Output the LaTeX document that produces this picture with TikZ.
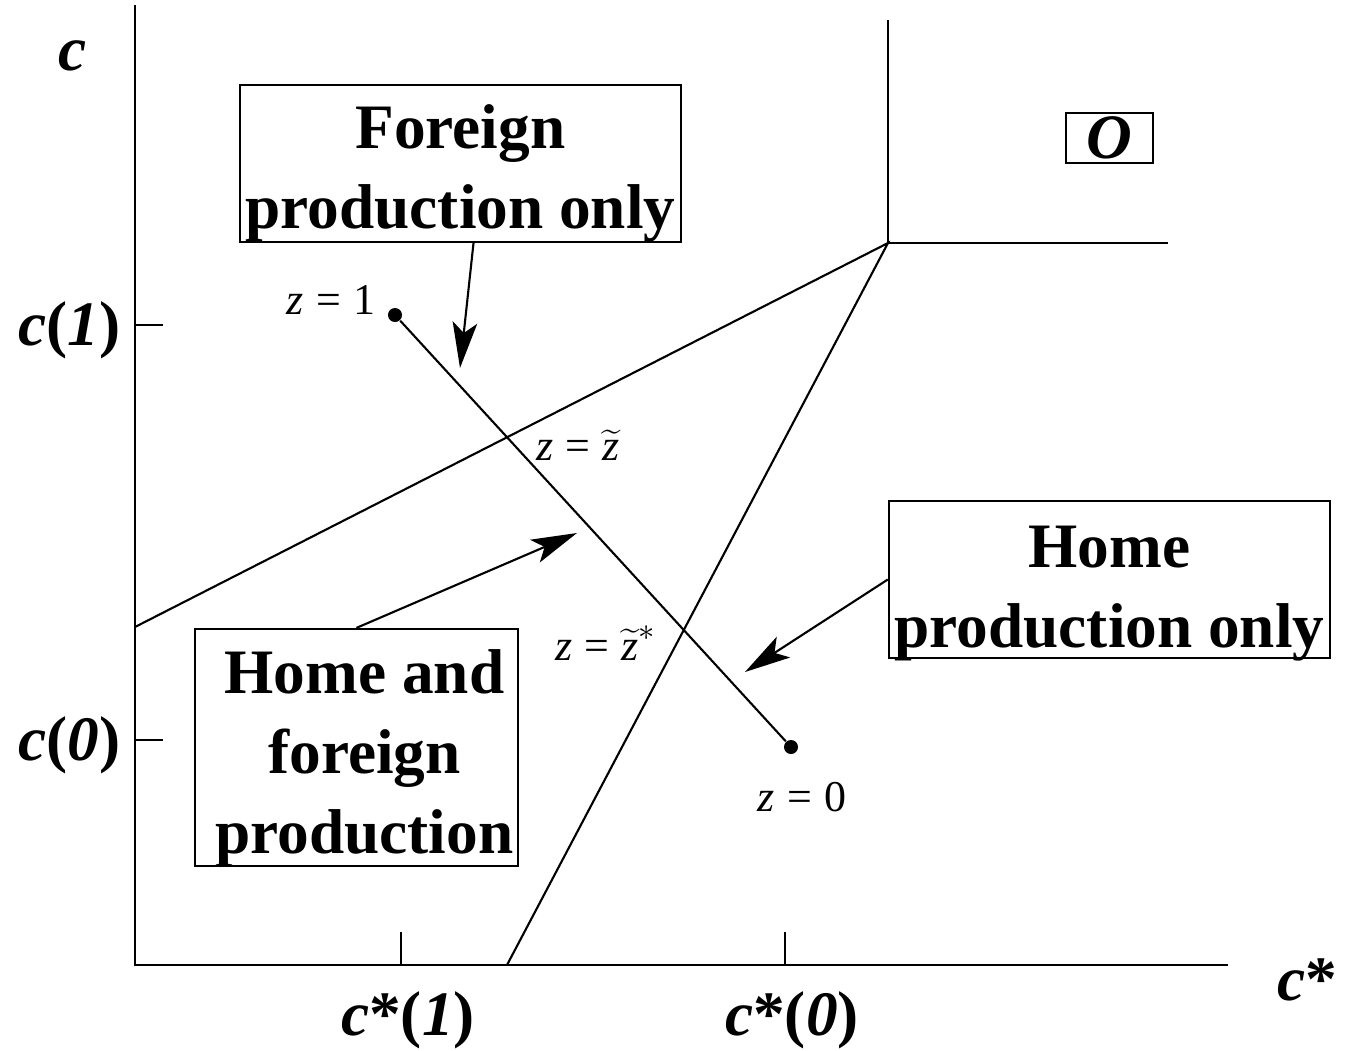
\documentclass[tikz,border=0pt]{standalone}
\usepackage{fontspec}
\setmainfont{Liberation Serif}
\usetikzlibrary{arrows.meta}

\tikzset{
  axis/.style={line width=0.6pt},
  curve/.style={line width=0.6pt},
  regionbox/.style={draw,line width=0.6pt,inner sep=0pt},
  regiontext/.style={align=center,inner sep=0pt,
    font=\fontsize{18}{22.8}\selectfont\bfseries},
  axislabel/.style={font=\fontsize{18}{22}\selectfont\bfseries},
  zlabel/.style={font=\fontsize{12.5}{14}\selectfont},
  pointer/.style={-{Stealth[length=13pt,width=7pt,inset=3pt]},line width=0.6pt},
  dot/.style={circle,fill=black,inner sep=0pt,minimum size=0.14cm},
}

\begin{document}
\begin{tikzpicture}[x=0.01cm,y=-0.01cm]
\useasboundingbox (0,0) rectangle (1347,1051);

% axes
\coordinate (O) at (135,965);
\coordinate (ytop) at (135,5);
\coordinate (xend) at (1228,965);
\draw[axis] (ytop) -- (O) -- (xend);

% ticks
\coordinate (c1) at (135,325);
\coordinate (c0) at (135,740);
\coordinate (cs1) at (401,965);
\coordinate (cs0) at (785,965);
\draw[axis] (c1) -- ++(28,0);
\draw[axis] (c0) -- ++(28,0);
\draw[axis] (cs1) -- ++(0,-33);
\draw[axis] (cs0) -- ++(0,-33);

% axis labels
\node[axislabel] (lc) at (73,56) {\textit{c}};
\node[axislabel] (lcs) at (1307,980) {\textit{c}*};
\node[axislabel,anchor=east] (lc1) at (133,330) {\textit{c}(\textit{1})};
\node[axislabel,anchor=east] (lc0) at (133,745) {\textit{c}(\textit{0})};
\node[axislabel] (lcs1) at (408,1020) {\textit{c}*(\textit{1})};
\node[axislabel] (lcs0) at (792,1020) {\textit{c}*(\textit{0})};

% region borders
\coordinate (K) at (888,243);
\coordinate (Ktop) at (888,20);
\coordinate (Kright) at (1168,243);
\coordinate (Kfoot) at (507,965);
\coordinate (Kleft) at (135,627);
\draw[curve] (Ktop) -- (K) -- (Kright);
\draw[curve] (Kfoot) -- (K) -- (Kleft);

% path of z
\node[dot] (z1) at (395,315) {};
\node[dot] (z0) at (791,747) {};
\draw[curve] (z1) -- (z0);
\node[zlabel] (lz1) at (331,300) {\textit{z}\;=\;1};
\node[zlabel] (lzt) at (578,445) {\textit{z}\;=\;$\widetilde{\mbox{\itshape z}}$};
\node[zlabel] (lzs) at (606,643) {\textit{z}\;=\;$\widetilde{\mbox{\itshape z}}^{*}$};
\node[zlabel] (lz0) at (802,797) {\textit{z}\;=\;0};

% regions
\node[regionbox,minimum width=4.41cm,minimum height=1.57cm,
  label={[regiontext,yshift=-0.1cm]center:Foreign\\production only}] (forbox) at (460.5,163.5) {};
\node[regionbox,minimum width=4.41cm,minimum height=1.57cm,
  label={[regiontext,yshift=-0.14cm]center:Home\\production only}] (homebox) at (1109.5,579.5) {};
\node[regionbox,minimum width=3.23cm,minimum height=2.37cm,
  label={[regiontext,xshift=0.08cm,yshift=-0.11cm]center:Home and\\ foreign\\production}] (bothbox) at (356.5,747.5) {};
\node[regionbox,minimum width=0.87cm,minimum height=0.5cm,
  label={[regiontext]center:\textit{O}}] (obox) at (1109.5,138) {};

% pointers
\coordinate (forpt) at (460,368);
\coordinate (bothpt) at (577,533);
\coordinate (homept) at (745,672);
\draw[pointer] ([xshift=0.13cm]forbox.south) -- (forpt);
\draw[pointer] (bothbox.north) -- (bothpt);
\draw[pointer] (homebox.west) -- (homept);

\end{tikzpicture}
\end{document}
